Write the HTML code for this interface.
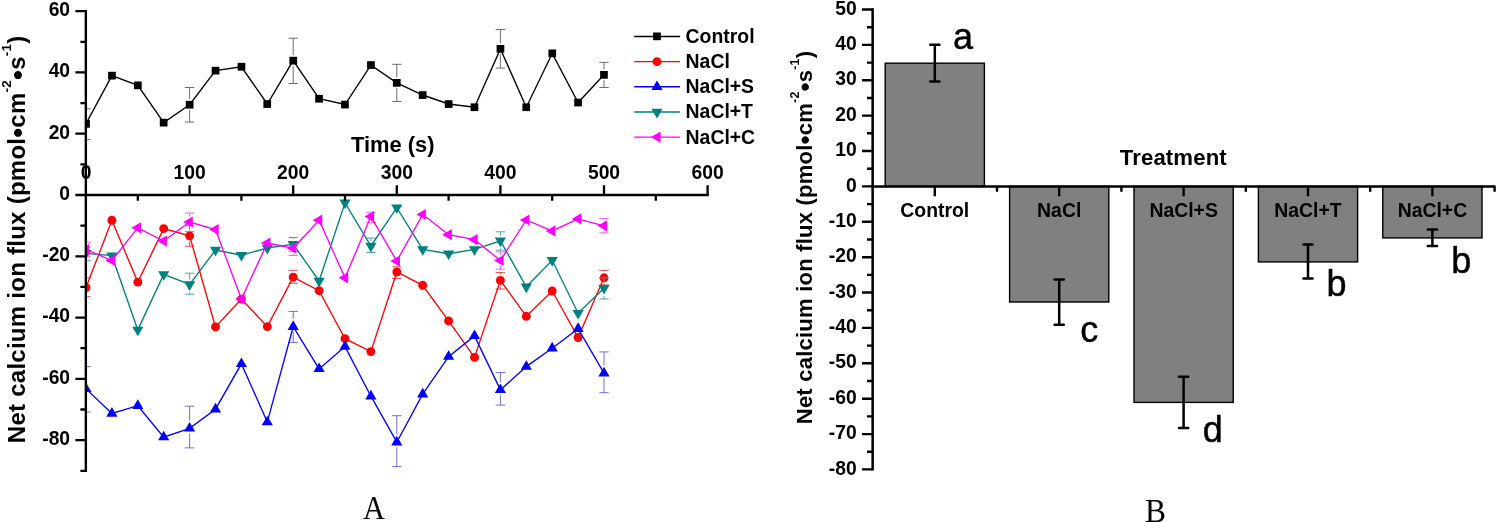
<!DOCTYPE html>
<html><head><meta charset="utf-8"><title>Net calcium ion flux</title>
<style>
html,body{margin:0;padding:0;background:#fff;}
body{width:1496px;height:522px;overflow:hidden;font-family:"Liberation Sans",sans-serif;}
svg{display:block;will-change:transform;}
text{font-family:"Liberation Sans",sans-serif;fill:#000;}
.b{font-weight:bold;}
.tk{font-weight:bold;font-size:19.3px;}
.lg{font-weight:bold;font-size:19.4px;}
.ser{font-family:"Liberation Serif",serif;font-size:34px;}
.let{font-size:36px;stroke:#000;stroke-width:0.45px;}
</style></head><body>
<svg width="1496" height="522" viewBox="0 0 1496 522">
<rect width="1496" height="522" fill="#fff"/>
<defs><clipPath id="cpA"><rect x="85.9" y="0" width="700" height="480"/></clipPath></defs>

<g clip-path="url(#cpA)">
<path d="M86 108.7V118.5M86 129.1V139.6M81.3 108.7H90.7M81.3 139.6H90.7M189.6 87.5V99.4M189.6 110V122.1M184.9 87.5H194.3M184.9 122.1H194.3M293.2 38.2V55.3M293.2 65.9V83.5M288.5 38.2H297.9M288.5 83.5H297.9M396.8 64.3V77.5M396.8 88.1V101.5M392.1 64.3H401.5M392.1 101.5H401.5M500.4 29.5V43.6M500.4 54.2V68.1M495.7 29.5H505.1M495.7 68.1H505.1M604 62.4V69.5M604 80.1V87.5M599.3 62.4H608.7M599.3 87.5H608.7" stroke="#666" stroke-width="0.95" fill="none"/>
<polyline points="86,123.8 111.9,75.6 137.8,85.3 163.7,122.6 189.6,104.7 215.5,70.6 241.4,66.8 267.3,104 293.2,60.6 319.1,98.7 345,104.5 370.9,65.1 396.8,82.8 422.7,95 448.6,104 474.5,107.2 500.4,48.9 526.3,107.2 552.2,53.4 578.1,102.5 604,74.8" stroke="#000" stroke-width="1.35" fill="none"/>
<rect x="82.2" y="120" width="7.7" height="7.7" fill="#000"/>
<rect x="108.1" y="71.8" width="7.7" height="7.7" fill="#000"/>
<rect x="134" y="81.5" width="7.7" height="7.7" fill="#000"/>
<rect x="159.8" y="118.8" width="7.7" height="7.7" fill="#000"/>
<rect x="185.8" y="100.9" width="7.7" height="7.7" fill="#000"/>
<rect x="211.7" y="66.8" width="7.7" height="7.7" fill="#000"/>
<rect x="237.6" y="62.9" width="7.7" height="7.7" fill="#000"/>
<rect x="263.4" y="100.2" width="7.7" height="7.7" fill="#000"/>
<rect x="289.4" y="56.8" width="7.7" height="7.7" fill="#000"/>
<rect x="315.2" y="94.9" width="7.7" height="7.7" fill="#000"/>
<rect x="341.1" y="100.7" width="7.7" height="7.7" fill="#000"/>
<rect x="367.1" y="61.2" width="7.7" height="7.7" fill="#000"/>
<rect x="392.9" y="79" width="7.7" height="7.7" fill="#000"/>
<rect x="418.8" y="91.2" width="7.7" height="7.7" fill="#000"/>
<rect x="444.8" y="100.2" width="7.7" height="7.7" fill="#000"/>
<rect x="470.6" y="103.4" width="7.7" height="7.7" fill="#000"/>
<rect x="496.6" y="45" width="7.7" height="7.7" fill="#000"/>
<rect x="522.4" y="103.4" width="7.7" height="7.7" fill="#000"/>
<rect x="548.4" y="49.5" width="7.7" height="7.7" fill="#000"/>
<rect x="574.2" y="98.7" width="7.7" height="7.7" fill="#000"/>
<rect x="600.1" y="71" width="7.7" height="7.7" fill="#000"/>
<path d="M86 277.8V281.6M86 293.6V296.7M81.3 277.8H90.7M81.3 296.7H90.7M189.6 225.8V229.8M189.6 241.8V246.2M184.9 225.8H194.3M184.9 246.2H194.3M293.2 270.3V271.2M288.5 270.3H297.9M288.5 283.2H297.9M396.8 278V278.4M392.1 266.9H401.5M392.1 278.4H401.5M500.4 272.6V274.4M500.4 286.4V289M495.7 272.6H505.1M495.7 289H505.1M604 270.3V271.8M604 283.8V285M599.3 270.3H608.7M599.3 285H608.7" stroke="#d44" stroke-width="0.95" fill="none"/>
<polyline points="86,287.6 111.9,220.3 137.8,282.1 163.7,228.6 189.6,235.8 215.5,326.9 241.4,299.1 267.3,326.6 293.2,277.2 319.1,290.7 345,338.7 370.9,351.6 396.8,272 422.7,285.3 448.6,320.9 474.5,357.4 500.4,280.4 526.3,316.3 552.2,291 578.1,337.5 604,277.8" stroke="#f00" stroke-width="1.35" fill="none"/>
<circle cx="86" cy="287.6" r="4.45" fill="#f00"/>
<circle cx="111.9" cy="220.3" r="4.45" fill="#f00"/>
<circle cx="137.8" cy="282.1" r="4.45" fill="#f00"/>
<circle cx="163.7" cy="228.6" r="4.45" fill="#f00"/>
<circle cx="189.6" cy="235.8" r="4.45" fill="#f00"/>
<circle cx="215.5" cy="326.9" r="4.45" fill="#f00"/>
<circle cx="241.4" cy="299.1" r="4.45" fill="#f00"/>
<circle cx="267.3" cy="326.6" r="4.45" fill="#f00"/>
<circle cx="293.2" cy="277.2" r="4.45" fill="#f00"/>
<circle cx="319.1" cy="290.7" r="4.45" fill="#f00"/>
<circle cx="345" cy="338.7" r="4.45" fill="#f00"/>
<circle cx="370.9" cy="351.6" r="4.45" fill="#f00"/>
<circle cx="396.8" cy="272" r="4.45" fill="#f00"/>
<circle cx="422.7" cy="285.3" r="4.45" fill="#f00"/>
<circle cx="448.6" cy="320.9" r="4.45" fill="#f00"/>
<circle cx="474.5" cy="357.4" r="4.45" fill="#f00"/>
<circle cx="500.4" cy="280.4" r="4.45" fill="#f00"/>
<circle cx="526.3" cy="316.3" r="4.45" fill="#f00"/>
<circle cx="552.2" cy="291" r="4.45" fill="#f00"/>
<circle cx="578.1" cy="337.5" r="4.45" fill="#f00"/>
<circle cx="604" cy="277.8" r="4.45" fill="#f00"/>
<path d="M86 366.6V381.1M86 393.9V412M81.3 366.6H90.7M81.3 412H90.7M189.6 406.2V420.6M189.6 433.4V447.9M184.9 406.2H194.3M184.9 447.9H194.3M293.2 311.4V318.9M293.2 331.7V342.4M288.5 311.4H297.9M288.5 342.4H297.9M396.8 415.7V434.4M396.8 447.2V466.6M392.1 415.7H401.5M392.1 466.6H401.5M500.4 372.6V382.1M500.4 394.9V405.1M495.7 372.6H505.1M495.7 405.1H505.1M604 351.9V365.4M604 378.2V392.7M599.3 351.9H608.7M599.3 392.7H608.7" stroke="#66d" stroke-width="0.95" fill="none"/>
<polyline points="86,388.9 111.9,413.5 137.8,405.7 163.7,437.1 189.6,428.4 215.5,409.2 241.4,363.8 267.3,422.1 293.2,326.7 319.1,368.9 345,346.6 370.9,396.2 396.8,442.2 422.7,394.2 448.6,356.6 474.5,335.9 500.4,389.9 526.3,366.6 552.2,348.2 578.1,328.7 604,373.2" stroke="#00f" stroke-width="1.35" fill="none"/>
<polygon points="86,382.5 80.4,392.1 91.6,392.1" fill="#00f"/>
<polygon points="111.9,407.1 106.3,416.7 117.5,416.7" fill="#00f"/>
<polygon points="137.8,399.3 132.2,408.9 143.4,408.9" fill="#00f"/>
<polygon points="163.7,430.7 158.1,440.3 169.3,440.3" fill="#00f"/>
<polygon points="189.6,422 184,431.6 195.2,431.6" fill="#00f"/>
<polygon points="215.5,402.8 209.9,412.4 221.1,412.4" fill="#00f"/>
<polygon points="241.4,357.4 235.8,367 247,367" fill="#00f"/>
<polygon points="267.3,415.7 261.7,425.3 272.9,425.3" fill="#00f"/>
<polygon points="293.2,320.3 287.6,329.9 298.8,329.9" fill="#00f"/>
<polygon points="319.1,362.5 313.5,372.1 324.7,372.1" fill="#00f"/>
<polygon points="345,340.2 339.4,349.8 350.6,349.8" fill="#00f"/>
<polygon points="370.9,389.8 365.3,399.4 376.5,399.4" fill="#00f"/>
<polygon points="396.8,435.8 391.2,445.4 402.4,445.4" fill="#00f"/>
<polygon points="422.7,387.8 417.1,397.4 428.3,397.4" fill="#00f"/>
<polygon points="448.6,350.2 443,359.8 454.2,359.8" fill="#00f"/>
<polygon points="474.5,329.5 468.9,339.1 480.1,339.1" fill="#00f"/>
<polygon points="500.4,383.5 494.8,393.1 506,393.1" fill="#00f"/>
<polygon points="526.3,360.2 520.7,369.8 531.9,369.8" fill="#00f"/>
<polygon points="552.2,341.8 546.6,351.4 557.8,351.4" fill="#00f"/>
<polygon points="578.1,322.3 572.5,331.9 583.7,331.9" fill="#00f"/>
<polygon points="604,366.8 598.4,376.4 609.6,376.4" fill="#00f"/>
<path d="M86 247.2V248.3M81.3 247.2H90.7M81.3 260.7H90.7M189.6 273.2V279.5M189.6 292.3V294.2M184.9 273.2H194.3M184.9 294.2H194.3M293.2 237.5V239.2M288.5 237.5H297.9M288.5 251.3H297.9M370.9 238.1V241M366.2 238.1H375.6M366.2 252.5H375.6M500.4 231.8V235.8M500.4 248.6V250.2M495.7 231.8H505.1M495.7 250.2H505.1M604 277.8V283.2M604 296V299M599.3 277.8H608.7M599.3 299H608.7" stroke="#44a0a0" stroke-width="0.95" fill="none"/>
<polyline points="86,253.3 111.9,255.7 137.8,329.9 163.7,274.4 189.6,284.5 215.5,250 241.4,255.2 267.3,248 293.2,244.2 319.1,281 345,202.8 370.9,246 396.8,207.7 422.7,249.4 448.6,253.7 474.5,249.4 500.4,240.8 526.3,286.8 552.2,260.3 578.1,313.2 604,288.2" stroke="#008080" stroke-width="1.35" fill="none"/>
<polygon points="86,259.7 80.4,250.1 91.6,250.1" fill="#008080"/>
<polygon points="111.9,262.1 106.3,252.5 117.5,252.5" fill="#008080"/>
<polygon points="137.8,336.3 132.2,326.7 143.4,326.7" fill="#008080"/>
<polygon points="163.7,280.8 158.1,271.2 169.3,271.2" fill="#008080"/>
<polygon points="189.6,290.9 184,281.3 195.2,281.3" fill="#008080"/>
<polygon points="215.5,256.4 209.9,246.8 221.1,246.8" fill="#008080"/>
<polygon points="241.4,261.6 235.8,252 247,252" fill="#008080"/>
<polygon points="267.3,254.4 261.7,244.8 272.9,244.8" fill="#008080"/>
<polygon points="293.2,250.6 287.6,241 298.8,241" fill="#008080"/>
<polygon points="319.1,287.4 313.5,277.8 324.7,277.8" fill="#008080"/>
<polygon points="345,209.2 339.4,199.6 350.6,199.6" fill="#008080"/>
<polygon points="370.9,252.4 365.3,242.8 376.5,242.8" fill="#008080"/>
<polygon points="396.8,214.1 391.2,204.5 402.4,204.5" fill="#008080"/>
<polygon points="422.7,255.8 417.1,246.2 428.3,246.2" fill="#008080"/>
<polygon points="448.6,260.1 443,250.5 454.2,250.5" fill="#008080"/>
<polygon points="474.5,255.8 468.9,246.2 480.1,246.2" fill="#008080"/>
<polygon points="500.4,247.2 494.8,237.6 506,237.6" fill="#008080"/>
<polygon points="526.3,293.2 520.7,283.6 531.9,283.6" fill="#008080"/>
<polygon points="552.2,266.7 546.6,257.1 557.8,257.1" fill="#008080"/>
<polygon points="578.1,319.6 572.5,310 583.7,310" fill="#008080"/>
<polygon points="604,294.6 598.4,285 609.6,285" fill="#008080"/>
<path d="M86 242.2V244.2M86 255V256.8M81.3 242.2H90.7M81.3 256.8H90.7M189.6 213.1V216.6M189.6 227.4V231.5M184.9 213.1H194.3M184.9 231.5H194.3M293.2 253.6V255.4M288.5 246H297.9M288.5 255.4H297.9M370.9 222V222.3M366.2 212.2H375.6M366.2 222.3H375.6M500.4 251.9V255.1M500.4 265.9V269.2M495.7 251.9H505.1M495.7 269.2H505.1M604 218.6V220.4M604 231.2V232.9M599.3 218.6H608.7M599.3 232.9H608.7" stroke="#e5e" stroke-width="0.95" fill="none"/>
<polyline points="86,249.6 111.9,260.5 137.8,227.8 163.7,241 189.6,222 215.5,229.5 241.4,299.1 267.3,243 293.2,248.2 319.1,220.2 345,277.8 370.9,216.6 396.8,261.1 422.7,214.5 448.6,234.7 474.5,239.6 500.4,260.5 526.3,220 552.2,230.9 578.1,218.9 604,225.8" stroke="#f0f" stroke-width="1.35" fill="none"/>
<polygon points="79.6,249.6 89.2,244 89.2,255.2" fill="#f0f"/>
<polygon points="105.5,260.5 115.1,254.9 115.1,266.1" fill="#f0f"/>
<polygon points="131.4,227.8 141,222.2 141,233.4" fill="#f0f"/>
<polygon points="157.3,241 166.9,235.4 166.9,246.6" fill="#f0f"/>
<polygon points="183.2,222 192.8,216.4 192.8,227.6" fill="#f0f"/>
<polygon points="209.1,229.5 218.7,223.9 218.7,235.1" fill="#f0f"/>
<polygon points="235,299.1 244.6,293.5 244.6,304.7" fill="#f0f"/>
<polygon points="260.9,243 270.5,237.4 270.5,248.6" fill="#f0f"/>
<polygon points="286.8,248.2 296.4,242.6 296.4,253.8" fill="#f0f"/>
<polygon points="312.7,220.2 322.3,214.6 322.3,225.8" fill="#f0f"/>
<polygon points="338.6,277.8 348.2,272.2 348.2,283.4" fill="#f0f"/>
<polygon points="364.5,216.6 374.1,211 374.1,222.2" fill="#f0f"/>
<polygon points="390.4,261.1 400,255.5 400,266.7" fill="#f0f"/>
<polygon points="416.3,214.5 425.9,208.9 425.9,220.1" fill="#f0f"/>
<polygon points="442.2,234.7 451.8,229.1 451.8,240.3" fill="#f0f"/>
<polygon points="468.1,239.6 477.7,234 477.7,245.2" fill="#f0f"/>
<polygon points="494,260.5 503.6,254.9 503.6,266.1" fill="#f0f"/>
<polygon points="519.9,220 529.5,214.4 529.5,225.6" fill="#f0f"/>
<polygon points="545.8,230.9 555.4,225.3 555.4,236.5" fill="#f0f"/>
<polygon points="571.7,218.9 581.3,213.3 581.3,224.5" fill="#f0f"/>
<polygon points="597.6,225.8 607.2,220.2 607.2,231.4" fill="#f0f"/>
</g>
<path d="M85.85 10.05V471.9" stroke="#000" stroke-width="2.4" fill="none"/>
<path d="M84.7 195.0H708.8" stroke="#000" stroke-width="2.4" fill="none"/>
<path d="M75.4 11.2H85.85M80.4 41.8H85.85M75.4 72.4H85.85M80.4 103.1H85.85M75.4 133.7H85.85M80.4 164.4H85.85M75.4 195H85.85M80.4 225.6H85.85M75.4 256.3H85.85M80.4 286.9H85.85M75.4 317.6H85.85M80.4 348.2H85.85M75.4 378.8H85.85M80.4 409.5H85.85M75.4 440.1H85.85M80.4 470.8H85.85M137.8 195.0V200.8M189.6 185.2V195.0M241.4 195.0V200.8M293.2 185.2V195.0M345 195.0V200.8M396.8 185.2V195.0M448.6 195.0V200.8M500.4 185.2V195.0M552.2 195.0V200.8M604 185.2V195.0M655.8 195.0V200.8M707.6 185.2V195.0" stroke="#000" stroke-width="2.3" fill="none"/>
<text class="tk" x="70.1" y="16" text-anchor="end">60</text>
<text class="tk" x="70.1" y="77.2" text-anchor="end">40</text>
<text class="tk" x="70.1" y="138.5" text-anchor="end">20</text>
<text class="tk" x="70.1" y="199.8" text-anchor="end">0</text>
<text class="tk" x="70.1" y="261.1" text-anchor="end">-20</text>
<text class="tk" x="70.1" y="322.4" text-anchor="end">-40</text>
<text class="tk" x="70.1" y="383.6" text-anchor="end">-60</text>
<text class="tk" x="70.1" y="444.9" text-anchor="end">-80</text>
<text class="tk" x="86" y="178.8" text-anchor="middle">0</text>
<text class="tk" x="189.6" y="178.8" text-anchor="middle">100</text>
<text class="tk" x="293.2" y="178.8" text-anchor="middle">200</text>
<text class="tk" x="396.8" y="178.8" text-anchor="middle">300</text>
<text class="tk" x="500.4" y="178.8" text-anchor="middle">400</text>
<text class="tk" x="604" y="178.8" text-anchor="middle">500</text>
<text class="tk" x="707.6" y="178.8" text-anchor="middle">600</text>
<text class="b" x="392.7" y="152.3" text-anchor="middle" font-size="21.9">Time (s)</text>
<text class="b" transform="translate(24.7 443.2) rotate(-90)" font-size="24" textLength="407.5" lengthAdjust="spacing">Net calcium ion flux (pmol<tspan font-size="28.1" dy="2.4">•</tspan><tspan dy="-2.4">cm</tspan><tspan font-size="13.5" dy="-13.8">-2</tspan><tspan font-size="28.1" dy="16.2">•</tspan><tspan dy="-2.4">s</tspan><tspan font-size="13.5" dy="-13.8">-1</tspan><tspan dy="13.8">)</tspan></text>
<path d="M634.2 36.4H680" stroke="#000" stroke-width="1.45"/>
<rect x="653.1" y="32.5" width="7.7" height="7.7" fill="#000"/>
<text class="lg" x="685.6" y="42.8">Control</text>
<path d="M634.2 61.6H680" stroke="#f00" stroke-width="1.45"/>
<circle cx="657" cy="61.6" r="4.45" fill="#f00"/>
<text class="lg" x="685.6" y="68">NaCl</text>
<path d="M634.2 86.8H680" stroke="#00f" stroke-width="1.45"/>
<polygon points="657,80.4 651.4,90 662.6,90" fill="#00f"/>
<text class="lg" x="685.6" y="93.2">NaCl+S</text>
<path d="M634.2 112.0H680" stroke="#008080" stroke-width="1.45"/>
<polygon points="657,118.4 651.4,108.8 662.6,108.8" fill="#008080"/>
<text class="lg" x="685.6" y="118.4">NaCl+T</text>
<path d="M634.2 137.1H680" stroke="#f0f" stroke-width="1.45"/>
<polygon points="651,137.1 660.6,131.5 660.6,142.7" fill="#f0f"/>
<text class="lg" x="685.6" y="143.5">NaCl+C</text>
<text class="ser" transform="translate(373.9 518.8) scale(0.895 1)" font-size="34.6" text-anchor="middle">A</text>
<rect x="885.2" y="63.2" width="99.2" height="123.2" fill="#808080" stroke="#000" stroke-width="1.4"/>
<rect x="1009.6" y="186.4" width="99.2" height="115.6" fill="#808080" stroke="#000" stroke-width="1.4"/>
<rect x="1134" y="186.4" width="99.2" height="216" fill="#808080" stroke="#000" stroke-width="1.4"/>
<rect x="1258.4" y="186.4" width="99.2" height="75.5" fill="#808080" stroke="#000" stroke-width="1.4"/>
<rect x="1382.8" y="186.4" width="99.2" height="51.5" fill="#808080" stroke="#000" stroke-width="1.4"/>
<path d="M934.8 44.8V81.4M930.2 44.8H939.4M930.2 81.4H939.4M1059.2 279.5V324.8M1054.6 279.5H1063.8M1054.6 324.8H1063.8M1183.6 376.8V428M1179 376.8H1188.2M1179 428H1188.2M1308 244.4V278.6M1303.4 244.4H1312.6M1303.4 278.6H1312.6M1432.4 229.4V246M1427.8 229.4H1437M1427.8 246H1437" stroke="#000" stroke-width="2.5" stroke-linecap="round" fill="none"/>
<path d="M872.65 8.3V470.6" stroke="#000" stroke-width="2.5" fill="none"/>
<path d="M871.4499999999999 186.4H1495.5" stroke="#000" stroke-width="2.5" fill="none"/>
<path d="M862.0 9.5H872.65M867.0 27.2H872.65M862.0 44.9H872.65M867.0 62.6H872.65M862.0 80.3H872.65M867.0 98H872.65M862.0 115.6H872.65M867.0 133.3H872.65M862.0 151H872.65M867.0 168.7H872.65M862.0 186.4H872.65M867.0 204.1H872.65M862.0 221.8H872.65M867.0 239.5H872.65M862.0 257.2H872.65M867.0 274.9H872.65M862.0 292.5H872.65M867.0 310.2H872.65M862.0 327.9H872.65M867.0 345.6H872.65M862.0 363.3H872.65M867.0 381H872.65M862.0 398.7H872.65M867.0 416.4H872.65M862.0 434.1H872.65M867.0 451.8H872.65M862.0 469.4H872.65M934.8 186.4V196.2M997 186.4V191.8M1059.2 186.4V196.2M1121.4 186.4V191.8M1183.6 186.4V196.2M1245.8 186.4V191.8M1308 186.4V196.2M1370.2 186.4V191.8M1432.4 186.4V196.2M1494.6 186.4V191.8" stroke="#000" stroke-width="2.4" fill="none"/>
<text class="tk" x="856.7" y="14.6" text-anchor="end">50</text>
<text class="tk" x="856.7" y="50" text-anchor="end">40</text>
<text class="tk" x="856.7" y="85.4" text-anchor="end">30</text>
<text class="tk" x="856.7" y="120.7" text-anchor="end">20</text>
<text class="tk" x="856.7" y="156.1" text-anchor="end">10</text>
<text class="tk" x="856.7" y="191.5" text-anchor="end">0</text>
<text class="tk" x="856.7" y="226.9" text-anchor="end">-10</text>
<text class="tk" x="856.7" y="262.3" text-anchor="end">-20</text>
<text class="tk" x="856.7" y="297.6" text-anchor="end">-30</text>
<text class="tk" x="856.7" y="333" text-anchor="end">-40</text>
<text class="tk" x="856.7" y="368.4" text-anchor="end">-50</text>
<text class="tk" x="856.7" y="403.8" text-anchor="end">-60</text>
<text class="tk" x="856.7" y="439.2" text-anchor="end">-70</text>
<text class="tk" x="856.7" y="474.5" text-anchor="end">-80</text>
<text class="lg" x="934.8" y="217.4" text-anchor="middle">Control</text>
<text class="lg" x="1059.2" y="217.4" text-anchor="middle">NaCl</text>
<text class="lg" x="1183.6" y="217.4" text-anchor="middle">NaCl+S</text>
<text class="lg" x="1308" y="217.4" text-anchor="middle">NaCl+T</text>
<text class="lg" x="1432.4" y="217.4" text-anchor="middle">NaCl+C</text>
<text class="b" x="1173.3" y="164.8" text-anchor="middle" font-size="22.2" letter-spacing="0.12">Treatment</text>
<text class="b" transform="translate(811.6 424.2) rotate(-90)" font-size="22" textLength="373.2" lengthAdjust="spacing">Net calcium ion flux (pmol<tspan font-size="25.7" dy="2.2">•</tspan><tspan dy="-2.2">cm</tspan><tspan font-size="12.4" dy="-12.7">-2</tspan><tspan font-size="25.7" dy="14.9">•</tspan><tspan dy="-2.2">s</tspan><tspan font-size="12.4" dy="-12.7">-1</tspan><tspan dy="12.7">)</tspan></text>
<text class="let" x="953.0" y="48.8">a</text>
<text class="let" x="1080.3" y="341.9">c</text>
<text class="let" x="1202.8" y="442.3">d</text>
<text class="let" x="1326.4" y="296.4">b</text>
<text class="let" x="1451.2" y="273.2">b</text>
<text class="ser" transform="translate(1155.6 522.4) scale(0.925 1)" text-anchor="middle">B</text>
</svg>
</body></html>
